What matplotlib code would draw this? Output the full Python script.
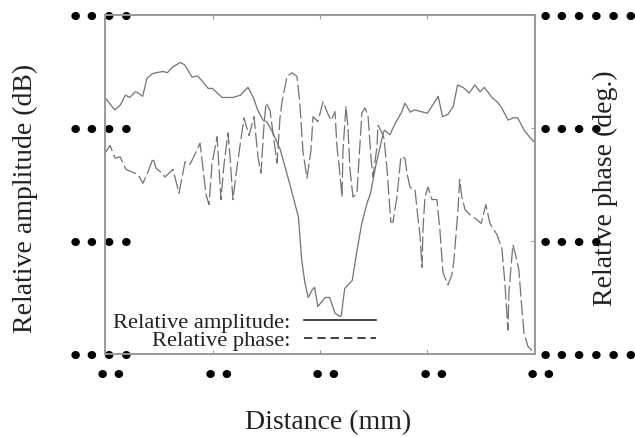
import numpy as np
import matplotlib
matplotlib.use('Agg')
import matplotlib.pyplot as plt
from matplotlib.lines import Line2D
from matplotlib.transforms import ScaledTranslation

# relative amplitude (dB) vs distance (mm)
amp_x = [0.0, 0.9, 1.4, 1.9, 2.3, 2.8, 3.1, 3.5, 3.9, 4.4, 4.8, 5.4, 5.8, 6.3, 7.0,
         7.4, 8.1, 8.6, 9.0, 9.6, 10.0, 10.9, 11.3, 11.9, 12.6, 13.3, 13.8, 14.2,
         14.7, 15.1, 15.6, 16.3, 17.2, 18.0, 18.3, 18.6, 18.9, 19.3, 19.5, 19.8,
         20.5, 20.9, 21.4, 21.9, 22.0, 22.3, 22.8, 23.0, 23.4, 23.9, 24.4, 24.7,
         25.2, 25.9, 26.0, 26.5, 27.0, 27.3, 27.6, 27.9, 28.4, 28.8, 30.0, 31.0,
         31.4, 31.9, 32.4, 32.8, 33.3, 33.9, 34.4, 34.9, 35.3, 36.0, 36.5, 36.9,
         37.5, 38.0, 38.4, 39.0, 39.5, 39.9]
amp_db = [-7.3, -8.4, -8.0, -7.1, -7.3, -6.8, -6.9, -7.2, -5.6, -5.2, -5.1, -5.0,
          -5.1, -4.6, -4.2, -4.4, -5.5, -5.4, -5.8, -6.5, -6.5, -7.3, -7.3, -7.3,
          -7.1, -6.4, -7.3, -8.4, -9.3, -9.5, -10.4, -11.9, -15.0, -17.9, -21.7,
          -23.7, -25.0, -24.3, -24.1, -25.8, -25.0, -25.0, -26.4, -26.7, -26.5,
          -24.2, -23.7, -23.5, -21.1, -18.4, -16.6, -15.8, -13.3, -10.4, -10.2,
          -10.6, -9.6, -9.1, -8.6, -7.8, -8.6, -8.4, -8.7, -7.2, -9.0, -8.8, -8.1,
          -6.2, -6.4, -6.9, -6.2, -6.8, -6.4, -7.3, -7.7, -8.2, -9.3, -9.1, -9.1,
          -10.2, -10.8, -11.2]

# relative phase (deg.) vs distance (mm)
ph_x = [0.0, 0.47, 0.93, 1.4, 1.95, 2.5, 3.07, 3.53, 4.0, 4.47, 4.74, 5.3, 5.58,
        6.33, 6.88, 7.44, 7.9, 8.37, 8.84, 9.4, 9.67, 9.95, 10.42, 10.79, 11.07,
        11.44, 11.63, 11.9, 12.28, 12.56, 12.93, 13.4, 13.86, 14.23, 14.51, 14.79,
        14.98, 15.35, 15.63, 16.0, 16.28, 16.47, 16.93, 17.4, 17.86, 17.95, 18.14,
        18.42, 18.79, 19.16, 19.35, 19.81, 20.28, 20.65, 21.02, 21.4, 21.58, 21.77,
        22.05, 22.14, 22.42, 22.6, 22.79, 23.07, 23.44, 23.63, 23.9, 24.19, 24.47,
        24.74, 24.93, 25.3, 25.4, 25.67, 25.95, 26.23, 26.42, 26.6, 26.79, 27.16,
        27.53, 27.9, 28.1, 28.37, 28.65, 28.84, 29.12, 29.3, 29.5, 29.58, 29.77,
        30.05, 30.42, 30.88, 31.16, 31.44, 31.9, 32.28, 32.47, 32.84, 33.0, 33.2,
        33.5, 33.95, 34.6, 35.0, 35.44, 35.81, 36.47, 36.93, 37.2, 37.49, 37.58,
        37.95, 38.14, 38.51, 38.7, 38.98, 39.35, 39.72, 40.0]
ph_deg = [-110, -104, -114, -113, -123, -125, -127, -134, -125, -114, -122, -126,
          -129, -123, -142, -117, -119, -111, -102, -143, -151, -119, -97, -147,
          -119, -94, -113, -147, -121, -104, -82, -96, -81, -113, -126, -88, -70,
          -76, -94, -118, -82, -69, -49, -46, -49, -56, -72, -109, -130, -108, -81,
          -85, -69, -77, -84, -77, -105, -119, -145, -108, -73, -89, -123, -145,
          -142, -115, -78, -74, -80, -113, -129, -105, -88, -92, -98, -122, -145,
          -165, -165, -145, -113, -114, -126, -137, -139, -139, -162, -175, -201,
          -171, -145, -137, -147, -147, -171, -205, -215, -207, -195, -155, -131,
          -145, -155, -159, -163, -166, -151, -166, -175, -186, -213, -251, -221,
          -183, -189, -203, -225, -253, -264, -267, -263]

x_ticks = [0, 10, 20, 30, 40]
x_ticklabels = ['\u2022\u2022'] * 5
amp_ticks = [-30, -20, -10, 0]
amp_ticklabels = ['\u2022\u2022\u2022\u2022'] * 4
ph_ticks = [-270, -180, -90, 0]
ph_ticklabels = ['\u2022' * 6, '\u2022' * 4, '\u2022' * 4, '\u2022' * 6]

SERIF = 'Liberation Serif'
GREY = '#999999'
LINE = '#737373'


def plot_profile():
    fig = plt.figure(figsize=(6.35, 4.37), dpi=100)
    ax = fig.add_axes([0.1654, 0.19, 0.677, 0.7757])
    ax2 = ax.twinx()

    ax.plot(amp_x, amp_db, color=LINE, lw=0.9)
    ax2.plot(ph_x, ph_deg, color=LINE, lw=0.9, dashes=(12, 3))

    ax.set_xlim(0, 40)
    ax.set_ylim(-30, 0)
    ax2.set_ylim(-270, 0)

    ax.set_xticks(x_ticks)
    ax.set_xticklabels(x_ticklabels, fontfamily='DejaVu Sans', fontsize=21)
    ax.set_yticks(amp_ticks)
    ax.set_yticklabels(amp_ticklabels, fontfamily='DejaVu Sans', fontsize=21)
    ax2.set_yticks(ph_ticks)
    ax2.set_yticklabels(ph_ticklabels, fontfamily='DejaVu Sans', fontsize=21)

    for a in (ax, ax2):
        for s in a.spines.values():
            s.set_color(GREY)
            s.set_linewidth(1.2)
    ax.tick_params(direction='in', top=True, length=3, color=GREY, width=0.8)
    ax.tick_params(axis='y', pad=-22)
    ax.tick_params(axis='x', pad=6)
    ax2.tick_params(direction='in', length=3, color=GREY, width=0.8, pad=1)

    # shift the x tick labels a little to the right, like the original
    off = ScaledTranslation(6 / 100, 0, fig.dpi_scale_trans)
    for lbl in ax.get_xticklabels():
        lbl.set_transform(lbl.get_transform() + off)

    ax.set_xlabel('Distance (mm)', family=SERIF, fontsize=20, color='#222222')
    ax.xaxis.set_label_coords(0.519, -0.165)
    ax.set_ylabel('Relative amplitude (dB)', family=SERIF, fontsize=20, color='#222222')
    ax.yaxis.set_label_coords(-0.155, 0.46)
    ax2.set_ylabel('Relative phase (deg.)', family=SERIF, fontsize=20, color='#222222')
    ax2.yaxis.set_label_coords(1.135, 0.49)

    handles = [Line2D([], [], color='#222222', lw=1.2),
               Line2D([], [], color='#222222', lw=1.2, dashes=(5, 3))]
    leg = ax.legend(handles, ['Relative amplitude:', 'Relative phase:'],
                    loc='lower left', bbox_to_anchor=(0.019, 0.01),
                    markerfirst=False, frameon=False, borderpad=0, borderaxespad=0,
                    handlelength=3.2, handletextpad=0.6, labelspacing=-0.12,
                    prop={'family': SERIF, 'size': 16.2})
    for t in leg.get_texts():
        t.set_color('#222222')

    fig.savefig('out.png', dpi=100)


if __name__ == "__main__":
    plot_profile()
